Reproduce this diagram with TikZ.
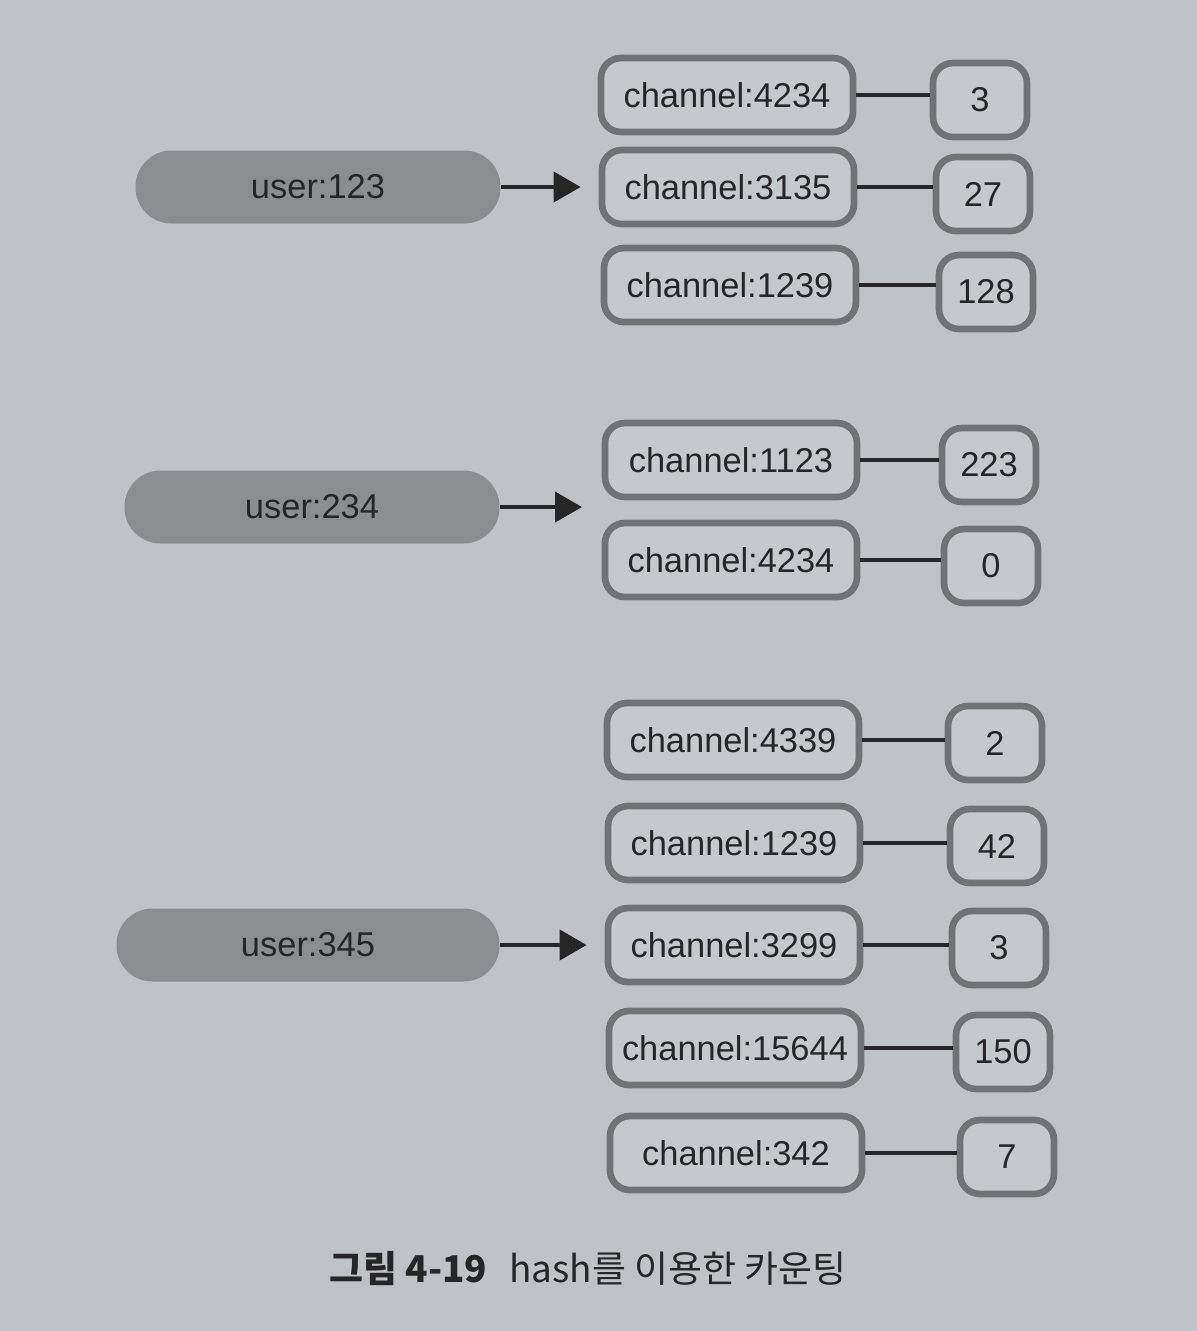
\documentclass[tikz,border=0pt]{standalone}
\usepackage{fontspec}
\setmainfont{Liberation Sans}
\newfontfamily\krfont{Noto Sans CJK KR}
\usepackage{tikz}
\usetikzlibrary{arrows.meta}

\definecolor{pagebg}{HTML}{BFC3C8}
\definecolor{boxline}{HTML}{707274}
\definecolor{boxfill}{HTML}{C5C8CC}
\definecolor{userfill}{HTML}{8B8D90}
\definecolor{inkdark}{HTML}{262626}

\tikzset{
	chanbox/.style={draw=boxline,fill=boxfill,line width=1.9pt,rounded corners=2mm,
		minimum width=25.2mm,minimum height=7.4mm,inner sep=0pt,text=inkdark,
		font=\fontsize{9.8}{11}\selectfont},
	countbox/.style={chanbox,minimum width=9.4mm},
	userpill/.style={fill=userfill,rounded corners=3.6mm,minimum height=7.3mm,
		inner sep=0pt,text=inkdark,font=\fontsize{9.8}{11}\selectfont},
	link/.style={draw=inkdark,line width=1.2pt},
	pointer/.style={draw=inkdark,line width=1.2pt,-{Triangle[length=2.7mm,width=3mm]},shorten >=1.8mm}
}

\begin{document}
\begin{tikzpicture}[x=0.1mm,y=-0.1mm]
	\fill[pagebg] (0,0) rectangle (1197,1331);
	\useasboundingbox (0,0) rectangle (1197,1331);
	
	\node[userpill,minimum width=36.5mm] (u123) at (318,187) {user:123};
	
	\node[chanbox] (c4234a) at (727,95) {channel:4234};
	\node[countbox] (n4234a) at (980,100) {3};
	\node[chanbox] (c3135) at (728,187) {channel:3135};
	\node[countbox] (n3135) at (983,194) {27};
	\node[chanbox] (c1239a) at (730,285) {channel:1239};
	\node[countbox] (n1239a) at (986,292) {128};
	
	\draw[link] (c4234a.east) -- (c4234a.east -| n4234a.west);
	\draw[link] (c3135.east) -- (c3135.east -| n3135.west);
	\draw[link] (c1239a.east) -- (c1239a.east -| n1239a.west);
	\draw[pointer] (u123.east) -- (c3135.west);
	
	\node[userpill,minimum width=37.5mm] (u234) at (312,507) {user:234};
	
	\node[chanbox] (c1123) at (731,460) {channel:1123};
	\node[countbox] (n1123) at (989,465) {223};
	\node[chanbox] (c4234b) at (731,560) {channel:4234};
	\node[countbox] (n4234b) at (991,566) {0};
	\coordinate (p234) at (600,507);
	
	\draw[link] (c1123.east) -- (c1123.east -| n1123.west);
	\draw[link] (c4234b.east) -- (c4234b.east -| n4234b.west);
	\draw[pointer] (u234.east) -- (p234);
	
	\node[userpill,minimum width=38.3mm] (u345) at (308,945) {user:345};
	
	\node[chanbox] (c4339) at (733,740) {channel:4339};
	\node[countbox] (n4339) at (995,743) {2};
	\node[chanbox] (c1239b) at (734,843) {channel:1239};
	\node[countbox] (n1239b) at (997,846) {42};
	\node[chanbox] (c3299) at (734,945) {channel:3299};
	\node[countbox] (n3299) at (999,948) {3};
	\node[chanbox] (c15644) at (735,1048) {channel:15644};
	\node[countbox] (n15644) at (1003,1052) {150};
	\node[chanbox] (c342) at (736,1153) {channel:342};
	\node[countbox] (n342) at (1007,1157) {7};
	
	\draw[link] (c4339.east) -- (c4339.east -| n4339.west);
	\draw[link] (c1239b.east) -- (c1239b.east -| n1239b.west);
	\draw[link] (c3299.east) -- (c3299.east -| n3299.west);
	\draw[link] (c15644.east) -- (c15644.east -| n15644.west);
	\draw[link] (c342.east) -- (c342.east -| n342.west);
	\draw[pointer] (u345.east) -- (c3299.west);
	
	\node[text=inkdark,font=\krfont\fontsize{10.5}{12}\selectfont] (caption) at (588,1268) {\textbf{그림 4-19}\hspace{0.6em}hash를 이용한 카운팅};
\end{tikzpicture}
\end{document}
